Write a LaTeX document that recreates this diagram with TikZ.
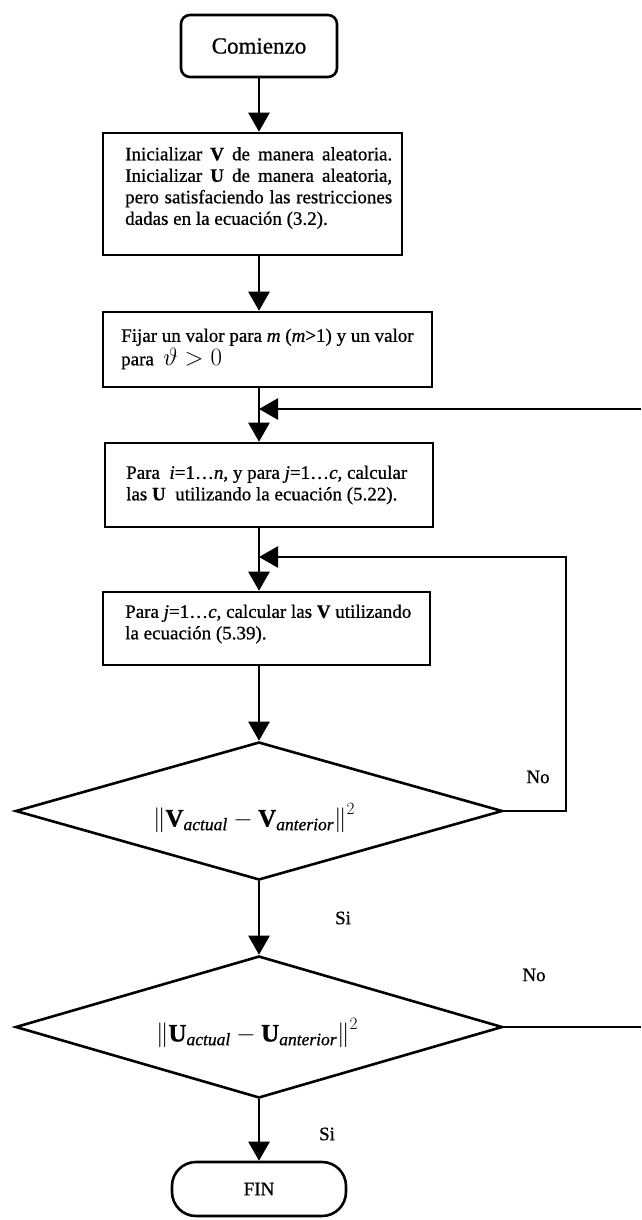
\documentclass[tikz,border=0pt]{standalone}
\usepackage{fontspec}
\setmainfont{Liberation Serif}[FakeBold=0.8]
\usepackage{amsmath}
\usetikzlibrary{arrows.meta,shapes.geometric}
\newcommand\jline[1]{\makebox[267pt][s]{#1}}
\begin{document}
\begin{tikzpicture}[x=1pt,y=-1pt,
  box/.style={draw,line width=2.6pt,inner sep=0pt},
  txt/.style={inner sep=0pt,align=left,anchor=west,font=\fontsize{19}{21.5}\selectfont},
  arr/.style={line width=2.6pt,-{Triangle[length=19pt,width=21pt]}},
  lnk/.style={line width=2.6pt},
  lbl/.style={inner sep=0pt,font=\fontsize{19}{19}\selectfont},
  dec/.style={draw,diamond,line width=2.6pt,inner sep=0pt},
  frm/.style={inner sep=0pt,font=\fontsize{25}{25}\selectfont}]
\useasboundingbox (0,0) rectangle (641,1220);
% nodes
\node[box,rounded corners=9pt,minimum width=156pt,minimum height=62pt,
      font=\fontsize{23}{23}\selectfont] (start) at (259,46) {Comienzo};
\node[box,minimum width=299pt,minimum height=122pt] (b1) at (252.5,194) {};
\node[txt] (b1t) at (125,188) {%
  \jline{Inicializar \textbf{V} de manera aleatoria.}\\
  \jline{Inicializar \textbf{U} de manera aleatoria,}\\
  \jline{pero satisfaciendo las restricciones}\\
  dadas en la ecuación (3.2).};
\node[box,minimum width=329pt,minimum height=75pt] (b2) at (267.5,349.5) {};
\node[txt] (b2t) at (121,349) {%
  Fijar un valor para \textit{m} (\textit{m}>1) y un valor\\[2pt]
  para\ \ {\fontsize{26}{26}\selectfont$\vartheta>0$}};
\node[box,minimum width=328pt,minimum height=84pt] (b3) at (269,485) {};
\node[txt] (b3t) at (126,485) {%
  Para\ \ \textit{i}=1…\textit{n}, y para \textit{j}=1…\textit{c}, calcular\\
  las \textbf{U}\ \ utilizando la ecuación (5.22).};
\node[box,minimum width=327pt,minimum height=73pt] (b4) at (266.5,628.5) {};
\node[txt] (b4t) at (125,624) {%
  Para \textit{j}=1…\textit{c}, calcular las \textbf{V} utilizando\\
  la ecuación (5.39).};
\node[dec,minimum width=487pt,minimum height=138pt] (d1) at (259,811) {};
\node[frm] (d1t) at (254,818)
  {$\left\|\textbf{V}_{\textit{actual}}-\textbf{V}_{\textit{anterior}}\right\|^{2}$};
\node[dec,minimum width=487pt,minimum height=142pt] (d2) at (259,1027) {};
\node[frm] (d2t) at (257,1033)
  {$\left\|\textbf{U}_{\textit{actual}}-\textbf{U}_{\textit{anterior}}\right\|^{2}$};
\node[box,rounded corners=24pt,minimum width=174pt,minimum height=54pt,
      font=\fontsize{19}{19}\selectfont] (fin) at (259,1189) {FIN};
% labels
\node[lbl] (no1) at (538,777) {No};
\node[lbl] (no2) at (534,975) {No};
\node[lbl] (si1) at (343,918) {Si};
\node[lbl] (si2) at (327,1134) {Si};
% coordinates
\coordinate (j1) at (259,409);
\coordinate (r1) at (641,409);
\coordinate (j2) at (259,557);
\coordinate (k2) at (566,557);
\coordinate (r2) at (641,1027);
% connectors
\draw[arr] (start.south) -- (start.south |- b1.north);
\draw[arr] (start.south |- b1.south) -- (start.south |- b2.north);
\draw[arr] (start.south |- b2.south) -- (start.south |- b3.north);
\draw[arr] (r1) -- (j1);
\draw[arr] (start.south |- b3.south) -- (start.south |- b4.north);
\draw[arr] (d1.east) -| (k2) -- (j2);
\draw[arr] (start.south |- b4.south) -- (d1.north);
\draw[arr] (d1.south) -- (d2.north);
\draw[lnk] (d2.east) -- (r2);
\draw[arr] (d2.south) -- (fin.north);
\end{tikzpicture}
\end{document}
